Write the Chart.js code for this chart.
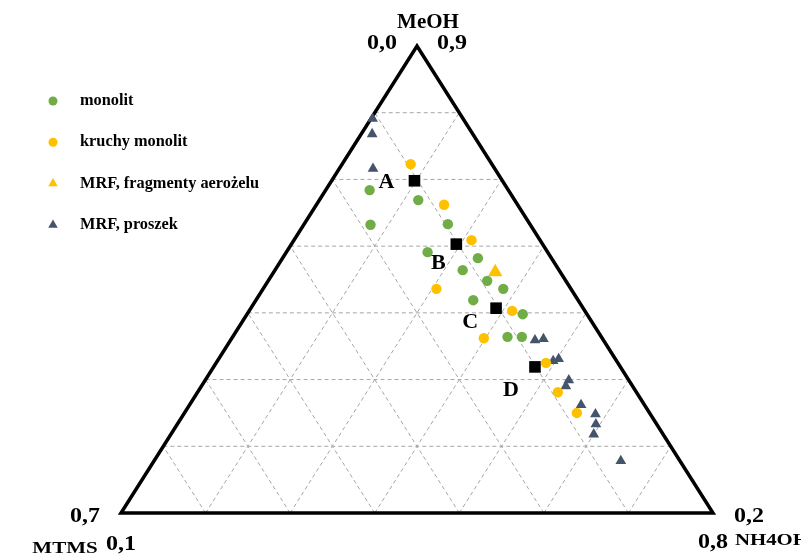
<!DOCTYPE html>
<html>
<head>
<meta charset="utf-8">
<script src="https://cdn.jsdelivr.net/npm/chart.js@4/dist/chart.umd.min.js"></script>
<style>
  html, body { margin: 0; padding: 0; background: #fff; }
  #wrap { width: 801px; height: 556px; }
</style>
</head>
<body>
<div id="wrap"><canvas id="c" width="801" height="556"></canvas></div>
<script>
// Ternary diagram MeOH / MTMS / NH4OH (mole fractions).
// Each composition is given by MeOH and NH4OH; MTMS = 1 - MeOH - NH4OH.

// Axis ranges of the zoomed ternary field (each spans 0,7)
const meohRange = [0.2, 0.9];
const mtmsRange = [0.0, 0.7];
const nh4ohRange = [0.1, 0.8];
const gridSteps = 7;

// monolit
const monolitMeOH  = [0.684, 0.632, 0.669, 0.633, 0.591, 0.582, 0.564, 0.548, 0.536, 0.519, 0.498, 0.464, 0.464];
const monolitNH4OH = [0.152, 0.179, 0.217, 0.270, 0.267, 0.331, 0.322, 0.359, 0.384, 0.357, 0.426, 0.425, 0.442];

// kruchy monolit
const kruchyMeOH  = [0.723, 0.662, 0.609, 0.536, 0.503, 0.462, 0.425, 0.381, 0.350];
const kruchyNH4OH = [0.181, 0.251, 0.310, 0.305, 0.411, 0.398, 0.490, 0.526, 0.564];

// MRF, fragmenty aerożelu
const fragMeOH  = [0.561];
const fragNH4OH = [0.362];

// MRF, proszek
const proszekMeOH  = [0.791, 0.768, 0.716, 0.459, 0.461, 0.428, 0.431, 0.390, 0.399, 0.362, 0.348, 0.333, 0.318, 0.278];
const proszekNH4OH = [0.102, 0.113, 0.140, 0.460, 0.469, 0.497, 0.502, 0.531, 0.530, 0.563, 0.587, 0.595, 0.600, 0.652];

// reference compositions A–D
const refNames = ['A', 'B', 'C', 'D'];
const refMeOH  = [0.698, 0.603, 0.507, 0.419];
const refNH4OH = [0.198, 0.295, 0.390, 0.480];

const seriesNames = ['monolit', 'kruchy monolit', 'MRF, fragmenty aerożelu', 'MRF, proszek'];

// composition -> cartesian position inside the unit triangle
// (bottom-left (0,0), bottom-right (1,0), apex (0.5,1))
function toXY(meoh, nh4oh) {
  const t = (meoh - meohRange[0]) / (meohRange[1] - meohRange[0]);
  const r = (nh4oh - nh4ohRange[0]) / (nh4ohRange[1] - nh4ohRange[0]);
  return { x: r + t / 2, y: t };
}
function points(meoh, nh4oh) {
  return meoh.map((m, i) => toXY(m, nh4oh[i]));
}

const SERIF = '"Liberation Serif", "Times New Roman", serif';

function drawText(ctx, text, x, y, size, sx, align) {
  ctx.save();
  ctx.font = 'bold ' + size + 'px ' + SERIF;
  ctx.fillStyle = '#000';
  ctx.textBaseline = 'middle';
  ctx.textAlign = align || 'center';
  ctx.translate(x, y);
  ctx.scale(sx, 1);
  ctx.fillText(text, 0, 0);
  ctx.restore();
}

const ternaryFrame = {
  id: 'ternaryFrame',
  beforeDatasetsDraw(chart) {
    const { ctx, scales: { x: sx, y: sy } } = chart;
    const P = (x, y) => [sx.getPixelForValue(x), sy.getPixelForValue(y)];
    const line = (a, b) => {
      const p = P(a[0], a[1]), q = P(b[0], b[1]);
      ctx.beginPath(); ctx.moveTo(p[0], p[1]); ctx.lineTo(q[0], q[1]); ctx.stroke();
    };
    ctx.save();
    ctx.strokeStyle = '#a6a6a6';
    ctx.lineWidth = 1;
    ctx.setLineDash([4, 3]);
    for (let k = 1; k < gridSteps; k++) {
      const f = k / gridSteps;
      line([f / 2, f], [1 - f / 2, f]);                 // constant MeOH
      line([f, 0], [f + (1 - f) / 2, 1 - f]);           // constant NH4OH
      line([1 - f, 0], [(1 - f) / 2, 1 - f]);           // constant MTMS
    }
    ctx.setLineDash([]);
    ctx.strokeStyle = '#000';
    ctx.lineWidth = 3.5;
    ctx.lineJoin = 'miter';
    const a = P(0, 0), b = P(1, 0), c = P(0.5, 1);
    ctx.beginPath();
    ctx.moveTo(a[0], a[1]); ctx.lineTo(b[0], b[1]); ctx.lineTo(c[0], c[1]); ctx.closePath();
    ctx.stroke();
    ctx.restore();
  },
  afterDraw(chart) {
    const { ctx, scales: { x: sx, y: sy } } = chart;
    // axis names and end values
    drawText(ctx, 'MeOH', 428, 23, 20, 1.05);
    drawText(ctx, mtmsRange[0].toFixed(1).replace('.', ','), 382, 44, 20, 1.2);
    drawText(ctx, meohRange[1].toFixed(1).replace('.', ','), 452, 44, 20, 1.2);
    drawText(ctx, mtmsRange[1].toFixed(1).replace('.', ','), 85, 517, 20, 1.2);
    drawText(ctx, 'MTMS', 65, 548, 17.5, 1.2);
    drawText(ctx, nh4ohRange[0].toFixed(1).replace('.', ','), 121, 545, 20, 1.2);
    drawText(ctx, meohRange[0].toFixed(1).replace('.', ','), 749, 517, 20, 1.2);
    drawText(ctx, nh4ohRange[1].toFixed(1).replace('.', ','), 713, 543, 20, 1.2);
    drawText(ctx, 'NH4OH', 735, 541, 16, 1.3, 'left');

    // reference point letters
    const offs = [[-28, 2], [-18, 19], [-26, 14], [-24, 23]];
    refNames.forEach((n, i) => {
      const p = toXY(refMeOH[i], refNH4OH[i]);
      drawText(ctx, n, sx.getPixelForValue(p.x) + offs[i][0], sy.getPixelForValue(p.y) + offs[i][1], 22, 1.0);
    });

    // legend
    const ds = chart.data.datasets;
    const legendSize = [4.5, 4.5, 5.5, 5.5];
    for (let i = 0; i < 4; i++) {
      const y = 101 + i * 41.3;
      ctx.save();
      ctx.fillStyle = ds[i].backgroundColor;
      Chart.helpers.drawPoint(ctx, { pointStyle: ds[i].pointStyle, rotation: 0, radius: legendSize[i], borderWidth: 0 }, 53, y);
      ctx.restore();
      drawText(ctx, seriesNames[i], 80, y, 16, 1.02, 'left');
    }
  }
};

const ds = (label, data, color, style, radius) => ({
  label, data,
  backgroundColor: color,
  borderColor: color,
  borderWidth: 0,
  pointStyle: style,
  pointRadius: radius,
  pointHoverRadius: radius
});

new Chart(document.getElementById('c'), {
  type: 'scatter',
  data: {
    datasets: [
      ds(seriesNames[0], points(monolitMeOH, monolitNH4OH), '#70AD47', 'circle', 5.2),
      ds(seriesNames[1], points(kruchyMeOH, kruchyNH4OH), '#FFC000', 'circle', 5.2),
      ds(seriesNames[2], points(fragMeOH, fragNH4OH), '#FFC000', 'triangle', 8.3),
      ds(seriesNames[3], points(proszekMeOH, proszekNH4OH), '#44546A', 'triangle', 6.2),
      ds('A-D', points(refMeOH, refNH4OH), '#000000', 'rect', 8.2)
    ]
  },
  options: {
    responsive: false,
    animation: false,
    events: [],
    layout: { padding: 0, autoPadding: false },
    plugins: { legend: { display: false }, tooltip: { enabled: false } },
    scales: {
      x: { type: 'linear', display: false, min: -121 / 592, max: 680 / 592 },
      y: { type: 'linear', display: false, min: -43 / 467, max: 513 / 467 }
    }
  },
  plugins: [ternaryFrame]
});
</script>
</body>
</html>
